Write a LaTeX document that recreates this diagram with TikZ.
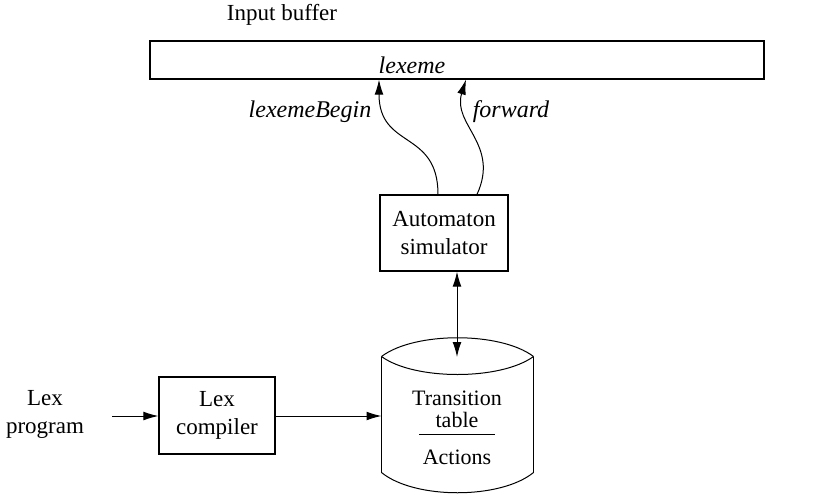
\documentclass[tikz,border=0pt]{standalone}
\usepackage{fontspec}
\setmainfont{Liberation Serif}
\usetikzlibrary{arrows.meta}
\begin{document}
\begin{tikzpicture}[x=0.5pt,y=-0.5pt,line width=0.5pt,
  box/.style={draw,line width=0.6pt,inner sep=0pt,align=center,font=\fontsize{11.5}{14}\selectfont},
  lbl/.style={inner sep=0pt,align=center,font=\fontsize{11.5}{14}\selectfont},
  cyltext/.style={inner sep=0pt,anchor=base,font=\fontsize{11}{13}\selectfont},
  ital/.style={inner sep=0pt,font=\fontsize{12}{14}\selectfont\itshape},
  arr/.style={-{Latex[length=7.5pt,width=4.4pt]},line width=0.5pt},
  darr/.style={{Latex[length=7.5pt,width=4.4pt]}-{Latex[length=7.5pt,width=4.4pt]},line width=0.5pt}]
\useasboundingbox (0,0) rectangle (815,494);
% input buffer
\node[lbl] (ib) at (282,15) {Input buffer};
\node[box,minimum width=307pt,minimum height=19pt] (buf) at (457,60) {};
\node[ital] (lx) at (412,65) {lexeme};
% automaton
\node[box,minimum width=64pt,minimum height=38pt] (auto) at (444,233) {Automaton\\simulator};
% pointers
\coordinate (lbs) at ([xshift=-3pt]auto.north);
\coordinate (fws) at ([xshift=16.5pt]auto.north);
\coordinate (lbe) at ([xshift=-39pt]buf.south);
\coordinate (fwe) at ([xshift=4.5pt]buf.south);
\draw[arr] (lbs) .. controls +(0,-65) and +(0,70) .. (lbe);
\draw[arr] (fws) .. controls +(23,-50) and +(-14,45) .. (fwe);
\node[ital] (lbl1) at (310,112) {lexemeBegin};
\node[ital] (lbl2) at (511,112) {forward};
% cylinder
\node[minimum width=75.5pt,minimum height=57.5pt,inner sep=0pt] (cyl) at (457.5,414.5) {};
\draw (cyl.north west) .. controls +(33,-25) and +(-33,-25) .. (cyl.north east);
\draw (cyl.north west) .. controls +(33,24) and +(-33,24) .. (cyl.north east);
\draw (cyl.north west) -- (cyl.south west);
\draw (cyl.north east) -- (cyl.south east);
\draw (cyl.south west) .. controls +(33,27) and +(-33,27) .. (cyl.south east);
\node[cyltext] (tr) at (457,405) {Transition};
\node[cyltext] (tb) at (457,427) {table};
\draw (419,434) -- (495,434);
\node[cyltext] (ac) at (457,464) {Actions};
\coordinate (ctop) at (457,357);
\draw[darr] (ctop |- auto.south) -- (ctop);
% lex compiler
\node[box,minimum width=58pt,minimum height=38.5pt] (comp) at (217,415.5) {Lex\\compiler};
\node[lbl] (lp) at (45,414) {Lex\\program};
\coordinate (lps) at (112,416);
\draw[arr] (lps) -- (lps -| comp.west);
\draw[arr] (lps -| comp.east) -- (lps -| cyl.west);
\end{tikzpicture}
\end{document}
